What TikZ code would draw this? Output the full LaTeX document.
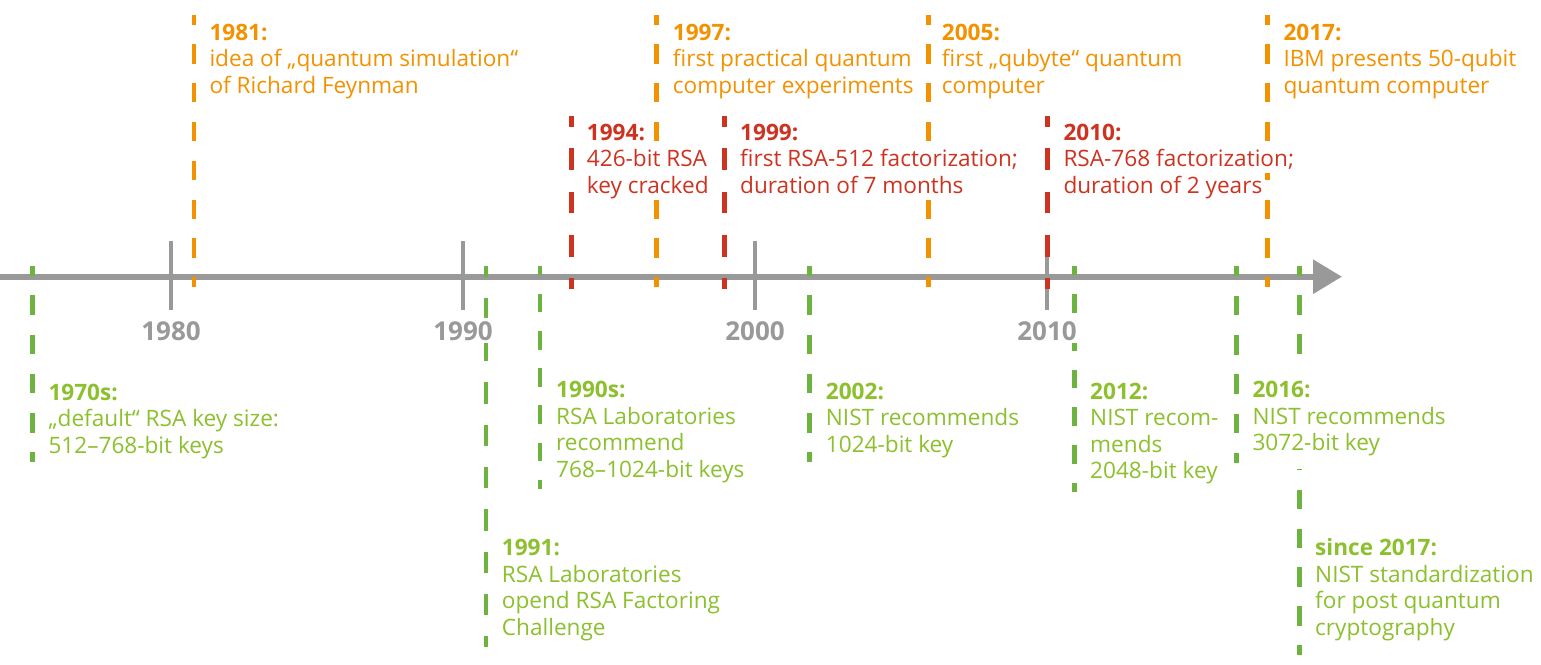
\documentclass[tikz,border=0pt]{standalone}
\usepackage{fontspec}
\setmainfont{Open Sans}
\usetikzlibrary{arrows.meta}
\definecolor{qorange}{HTML}{F39200}
\definecolor{qred}{HTML}{CD3321}
\definecolor{qgreenl}{HTML}{6DB33F}
\definecolor{qgreent}{HTML}{8DC02E}
\definecolor{qgray}{HTML}{999999}
\setlength{\fboxsep}{0pt}
\newcommand\wl[1]{\colorbox{white}{\rule[-6pt]{0pt}{26pt}#1}}
\newcommand\wltop[1]{\colorbox{white}{\rule[-6pt]{0pt}{32pt}#1}}
\newcommand\wlbot[1]{\colorbox{white}{\rule[-18pt]{0pt}{38pt}#1}}
\begin{document}
\begin{tikzpicture}[x=1pt,y=-1pt,
  axisline/.style={draw=qgray,line width=6pt},
  tickmark/.style={draw=qgray,line width=3.5pt},
  yearlbl/.style={anchor=base,fill=white,inner sep=3pt,text=qgray,font=\fontsize{26}{30}\selectfont\bfseries},
  evline/.style={line width=4.5pt},
  oline/.style={evline,draw=qorange},
  rline/.style={evline,draw=qred},
  gline/.style={evline,draw=qgreenl},
  evtext/.style={anchor=north west,inner sep=0pt,align=left,font=\fontsize{22.6}{26.4}\selectfont},
  otext/.style={evtext,text=qorange},
  rtext/.style={evtext,text=qred},
  gtext/.style={evtext,text=qgreent}
]
\useasboundingbox (0,0) rectangle (1541,664);
% axis
\coordinate (axstart) at (0,276.7);
\coordinate (axend) at (1342,276.7);
\draw[axisline,-{Triangle[length=29pt,width=33pt]}] (axstart) -- (axend);
% ticks
\foreach \nm/\xx in {t1980/171,t1990/463,t2000/755,t2010/1047}{
  \coordinate (\nm a) at (\xx,241);
  \coordinate (\nm b) at (\xx,310);
  \draw[tickmark] (\nm a) -- (\nm b);
}
% orange lines
\foreach \nm/\xx in {o81/194,o97/656.7,o05/928.7,o17/1267.7}{
  \coordinate (\nm a) at (\xx,15);
  \coordinate (\nm b) at (\xx,287);
  \draw[oline,dash pattern=on 19.43pt off 19.43pt,dash phase=9.71pt] (\nm a) -- (\nm b);
}
% red lines
\foreach \nm/\xx in {r94/571.7,r99/724.3,r10/1047.3}{
  \coordinate (\nm a) at (\xx,116);
  \coordinate (\nm b) at (\xx,289);
  \draw[rline,dash pattern=on 21.62pt off 21.62pt,dash phase=10.81pt] (\nm a) -- (\nm b);
}
% green lines
\foreach \nm/\xx/\yy/\dd in {g70/32.3/462/19.6, g91/486/647/21.17, g90/540/489/18.58, g02/809.3/462/19.6, g12/1074.3/492/18.83, g16/1236.3/463/19.7, g17/1299.3/655/19.45}{
  \coordinate (\nm a) at (\xx,266);
  \coordinate (\nm b) at (\xx,\yy);
  \pgfmathsetmacro\ph{\dd/2}
  \draw[gline,dash pattern=on \dd pt off \dd pt,dash phase=\ph pt] (\nm a) -- (\nm b);
}
% year labels
\node[yearlbl] (y1980) at (171,340) {1980};
\node[yearlbl] (y1990) at (463,340) {1990};
\node[yearlbl] (y2000) at (755,340) {2000};
\node[yearlbl] (y2010) at (1047,340) {2010};
% orange texts (first baseline at y=40)
\node[otext] (n81) at (209.3,20) {\wl{\bfseries 1981:}\\\wl{idea of „quantum simulation“}\\\wl{of Richard Feynman}};
\node[otext] (n97) at (672.7,20) {\wl{\bfseries 1997:}\\\wl{first practical quantum}\\\wl{computer experiments}};
\node[otext] (n05) at (941.7,20) {\wl{\bfseries 2005:}\\\wl{first „qubyte“ quantum}\\\wl{computer}};
\node[otext] (n17) at (1283.3,20) {\wl{\bfseries 2017:}\\\wl{IBM presents 50-qubit}\\\wl{quantum computer}};
% red texts (first baseline at y=140)
\node[rtext] (n94) at (586.7,120) {\wl{\bfseries 1994:}\\\wl{426-bit RSA}\\\wl{key cracked}};
\node[rtext] (n99) at (740,120) {\wl{\bfseries 1999:}\\\wl{first RSA-512 factorization;}\\\wl{duration of 7 months}};
\node[rtext] (n10) at (1063.3,120) {\wl{\bfseries 2010:}\\\wl{RSA-768 factorization;}\\\wl{duration of 2 years}};
% green texts
\node[gtext] (m70) at (48.3,380) {\wl{\bfseries 1970s:}\\\wl{„default“ RSA key size:}\\\wl{512–768-bit keys}};
\node[gtext] (m91) at (501.7,535.7) {\wl{\bfseries 1991:}\\\wl{RSA Laboratories}\\\wl{opend RSA Factoring}\\\wl{Challenge}};
\node[gtext] (m90) at (556,377.7) {\wl{\bfseries 1990s:}\\\wl{RSA Laboratories}\\\wl{recommend}\\\wl{768–1024-bit keys}};
\node[gtext] (m02) at (825.7,379.3) {\wl{\bfseries 2002:}\\\wl{NIST recommends}\\\wl{1024-bit key}};
\node[gtext] (m12) at (1090,379) {\wl{\bfseries 2012:}\\\wl{NIST recom-}\\\wl{mends}\\\wl{2048-bit key}};
\node[gtext,fill=white] (m16) at (1252.3,371.7) {\wltop{\bfseries 2016:}\\\wl{NIST recommends}\\\wlbot{3072-bit key}};
\node[gtext] (m17) at (1315,535.7) {\wl{\bfseries since 2017:}\\\wl{NIST standardization}\\\wl{for post quantum}\\\wl{cryptography}};
\end{tikzpicture}
\end{document}
